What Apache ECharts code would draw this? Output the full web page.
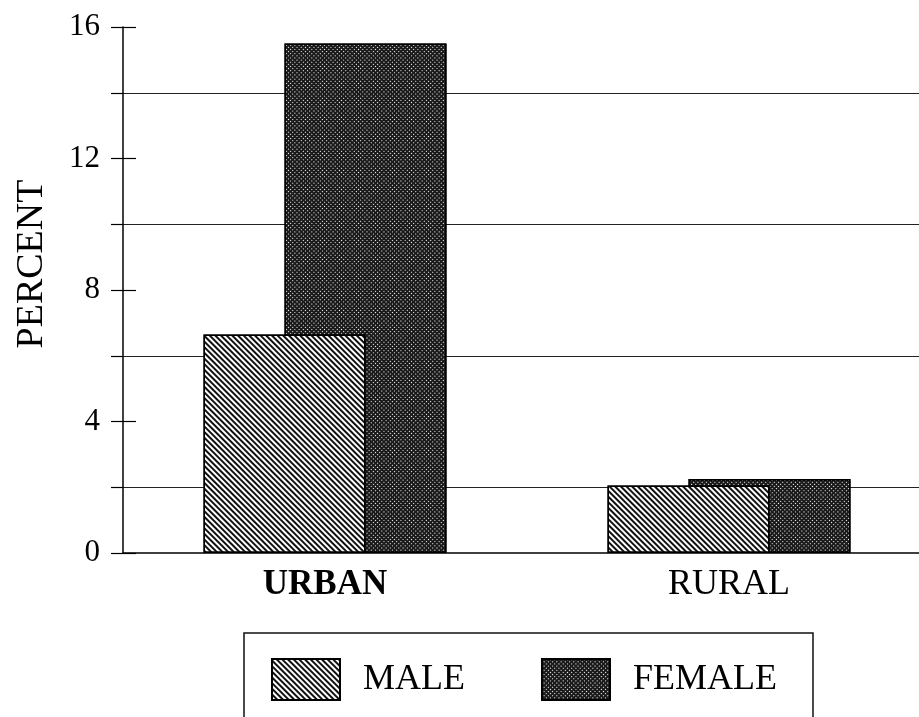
<!DOCTYPE html>
<html>
<head>
<meta charset="utf-8">
<title>Percent by area and sex</title>
<script src="https://cdn.jsdelivr.net/npm/echarts@6/dist/echarts.min.js"></script>
<style>
  html, body { margin: 0; padding: 0; background: #fff; overflow: hidden; }
  /* plot area runs past the right edge of the window, as in the scan */
  #chart { width: 931px; height: 717px; }
</style>
</head>
<body>
<div id="chart"></div>
<script>
var categories = ['URBAN', 'RURAL']
var seriesNames = ['MALE', 'FEMALE']
var maleValues = [6.65, 2.05]
var femaleValues = [15.5, 2.25]
var yLabelValues = [0, 4, 8, 12, 16]

var serif = 'Liberation Serif, Times New Roman, serif'

// diagonal hatch for male, dark halftone for female
var maleDecal = {
  symbol: 'rect',
  symbolSize: 1,
  color: '#111',
  dashArrayX: [1, 0],
  dashArrayY: [1.3, 2],
  rotation: Math.PI / 4,
}
var femaleDecal = {
  symbol: 'rect',
  symbolSize: 1,
  color: '#fff',
  dashArrayX: [1, 2],
  dashArrayY: [1, 2],
  rotation: Math.PI / 4,
}

var chart = echarts.init(document.getElementById('chart'))
chart.setOption({
  animation: false,
  backgroundColor: '#fff',
  grid: {
    left: 123,
    right: 0,
    top: 27,
    bottom: 164,
  },
  legend: {
    left: 244,
    top: 633,
    icon: 'rect',
    data: seriesNames,
    borderColor: '#111',
    borderWidth: 1.5,
    borderRadius: 0,
    padding: [25, 36, 40, 27],
    itemWidth: 68,
    itemHeight: 41,
    itemGap: 76,
    textStyle: {
      fontFamily: serif,
      fontSize: 36,
      color: '#000',
      padding: [0, 0, 0, 18],
    },
  },
  xAxis: {
    type: 'category',
    data: categories,
    boundaryGap: true,
    axisLine: { lineStyle: { color: '#000', width: 1.5 } },
    axisTick: { show: false },
    axisLabel: {
      margin: 14,
      fontFamily: serif,
      fontSize: 36,
      color: '#000',
      formatter: function (v) {
        return v === 'URBAN' ? '{b|' + v + '}' : v
      },
      rich: {
        b: { fontFamily: serif, fontSize: 35, fontWeight: 'bold', color: '#000' },
      },
    },
  },
  yAxis: [
    {
      type: 'value',
      min: 0,
      max: 16,
      interval: 2,
      position: 'left',
      axisLine: { show: true, lineStyle: { color: '#000', width: 1.5 } },
      axisTick: { show: true, length: 12, lineStyle: { color: '#000', width: 1.2 } },
      axisLabel: { show: false },
      splitLine: {
        show: true,
        lineStyle: { color: ['rgba(0,0,0,0)', '#222'], width: 1.2 },
      },
    },
    {
      type: 'value',
      min: 0,
      max: 16,
      interval: 4,
      position: 'left',
      name: 'PERCENT',
      nameLocation: 'middle',
      nameGap: 72,
      nameTextStyle: {
        fontFamily: serif,
        fontSize: 38,
        color: '#000',
        padding: [0, 0, 0, 52],
      },
      axisLine: { show: false },
      axisTick: { show: true, inside: true, length: 13, lineStyle: { color: '#000', width: 1.2 } },
      axisLabel: {
        margin: 23,
        fontFamily: serif,
        fontSize: 31,
        color: '#000',
        formatter: function (v) {
          return yLabelValues.indexOf(v) >= 0 ? String(v) : ''
        },
      },
      splitLine: { show: false },
    },
  ],
  series: [
    {
      name: seriesNames[0],
      type: 'bar',
      z: 3,
      barWidth: 162,
      barGap: '-50%',
      data: maleValues,
      itemStyle: {
        color: '#fff',
        borderColor: '#000',
        borderWidth: 1.5,
        decal: maleDecal,
      },
    },
    {
      name: seriesNames[1],
      type: 'bar',
      z: 2,
      barWidth: 162,
      barGap: '-50%',
      data: femaleValues,
      itemStyle: {
        color: '#1a1a1a',
        borderColor: '#000',
        borderWidth: 1.5,
        decal: femaleDecal,
      },
    },
  ],
})
</script>
</body>
</html>
